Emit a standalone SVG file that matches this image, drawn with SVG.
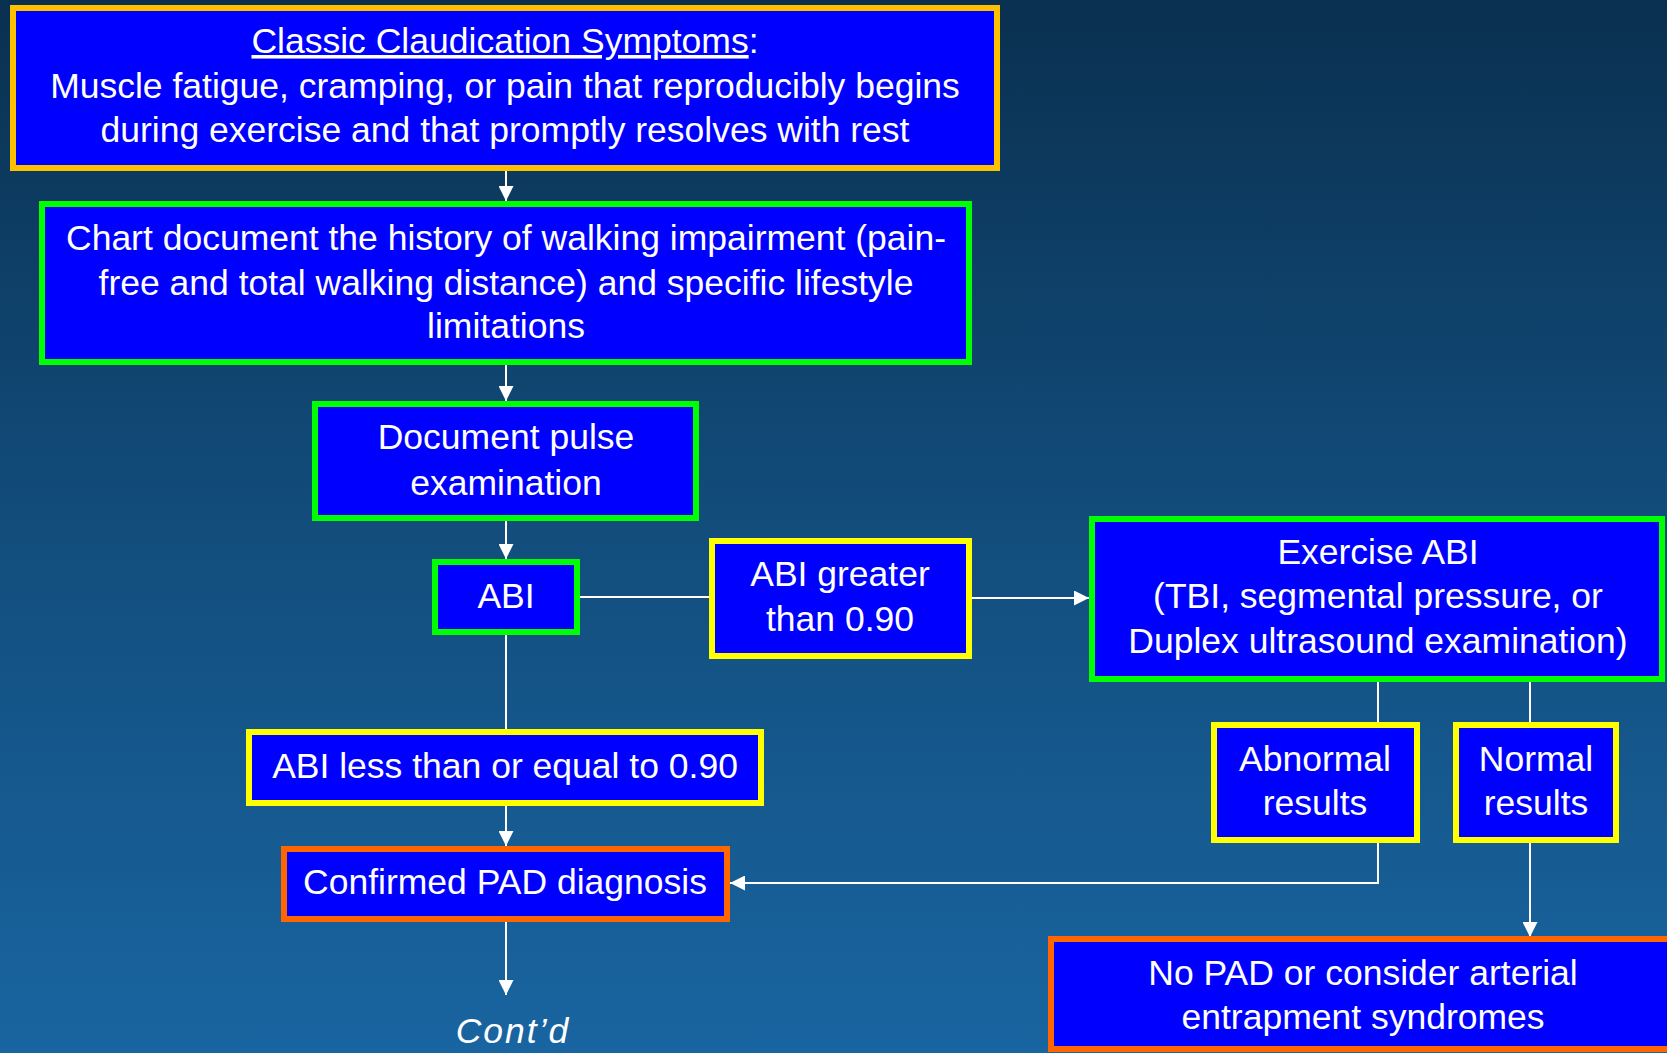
<svg xmlns="http://www.w3.org/2000/svg" width="1667" height="1053" viewBox="0 0 1667 1053">
<defs>
<linearGradient id="bg" x1="0" y1="0" x2="0" y2="1">
<stop offset="0" stop-color="#0A3050"/>
<stop offset="0.5" stop-color="#124D7C"/>
<stop offset="1" stop-color="#1965A1"/>
</linearGradient>
<marker id="ah" markerUnits="userSpaceOnUse" markerWidth="15" markerHeight="15" refX="15" refY="7.5" orient="auto">
<path d="M0,0 L15,7.5 L0,15 z" fill="#FFFFFF"/>
</marker>
<style>
.box{fill:#0000FF;stroke-width:6}
.gold{stroke:#FFC000}
.green{stroke:#00FF00}
.yellow{stroke:#FFFF00}
.orange{stroke:#FF6600}
.t{font-family:"Liberation Sans",Arial,sans-serif;font-size:35.5px;fill:#FFFFFF;text-anchor:middle}
.c{fill:none;stroke:#FFFFFF;stroke-width:2}
.a{marker-end:url(#ah)}
</style>
</defs>
<rect x="0" y="0" width="1667" height="1053" fill="url(#bg)"/>
<g id="connectors">
<line class="c a" x1="506" y1="165" x2="506" y2="201"/>
<line class="c a" x1="506" y1="365" x2="506" y2="401"/>
<line class="c a" x1="506" y1="521" x2="506" y2="559"/>
<line class="c" x1="506" y1="635" x2="506" y2="729"/>
<line class="c" x1="580" y1="597" x2="709" y2="597"/>
<line class="c a" x1="972" y1="598" x2="1089" y2="598"/>
<line class="c" x1="1378" y1="682" x2="1378" y2="722"/>
<line class="c" x1="1530" y1="682" x2="1530" y2="722"/>
<line class="c a" x1="506" y1="806" x2="506" y2="846"/>
<path class="c a" d="M1378,843 V883 H730"/>
<line class="c a" x1="1530" y1="843" x2="1530" y2="937"/>
<line class="c a" x1="506" y1="922" x2="506" y2="995"/>
</g>
<g id="n1">
<rect class="box gold" x="13" y="8" width="984" height="160"/>
<text class="t" x="505" y="53"><tspan text-decoration="underline">Classic Claudication Symptoms</tspan>:</text>
<text class="t" x="505" y="98">Muscle fatigue, cramping, or pain that reproducibly begins</text>
<text class="t" x="505" y="142">during exercise and that promptly resolves with rest</text>
</g>
<g id="n2">
<rect class="box green" x="42" y="204" width="927" height="158"/>
<text class="t" x="506" y="250">Chart document the history of walking impairment (pain-</text>
<text class="t" x="506" y="295">free and total walking distance) and specific lifestyle</text>
<text class="t" x="506" y="338">limitations</text>
</g>
<g id="n3">
<rect class="box green" x="315" y="404" width="381" height="114"/>
<text class="t" x="506" y="449">Document pulse</text>
<text class="t" x="506" y="495">examination</text>
</g>
<g id="n4">
<rect class="box green" x="435" y="562" width="142" height="70"/>
<text class="t" x="506" y="608">ABI</text>
</g>
<g id="n5">
<rect class="box yellow" x="712" y="541" width="257" height="115"/>
<text class="t" x="840" y="586">ABI greater</text>
<text class="t" x="840" y="631">than 0.90</text>
</g>
<g id="n6">
<rect class="box green" x="1092" y="519" width="570" height="160"/>
<text class="t" x="1378" y="564">Exercise ABI</text>
<text class="t" x="1378" y="608">(TBI, segmental pressure, or</text>
<text class="t" x="1378" y="653">Duplex ultrasound examination)</text>
</g>
<g id="n7">
<rect class="box yellow" x="1214" y="725" width="203" height="115"/>
<text class="t" x="1315" y="771">Abnormal</text>
<text class="t" x="1315" y="815">results</text>
</g>
<g id="n8">
<rect class="box yellow" x="1456" y="725" width="160" height="115"/>
<text class="t" x="1536" y="771">Normal</text>
<text class="t" x="1536" y="815">results</text>
</g>
<g id="n9">
<rect class="box yellow" x="249" y="732" width="512" height="71"/>
<text class="t" x="505" y="778">ABI less than or equal to 0.90</text>
</g>
<g id="n10">
<rect class="box orange" x="284" y="849" width="443" height="70"/>
<text class="t" x="505" y="894">Confirmed PAD diagnosis</text>
</g>
<g id="n11">
<rect class="box orange" x="1051" y="939" width="640" height="110"/>
<text class="t" x="1363" y="985">No PAD or consider arterial</text>
<text class="t" x="1363" y="1029">entrapment syndromes</text>
</g>
<g id="n12">
<text class="t" x="513" y="1043" font-style="italic" fill="#F0F0F8" letter-spacing="2">Cont’d</text>
</g>
</svg>
